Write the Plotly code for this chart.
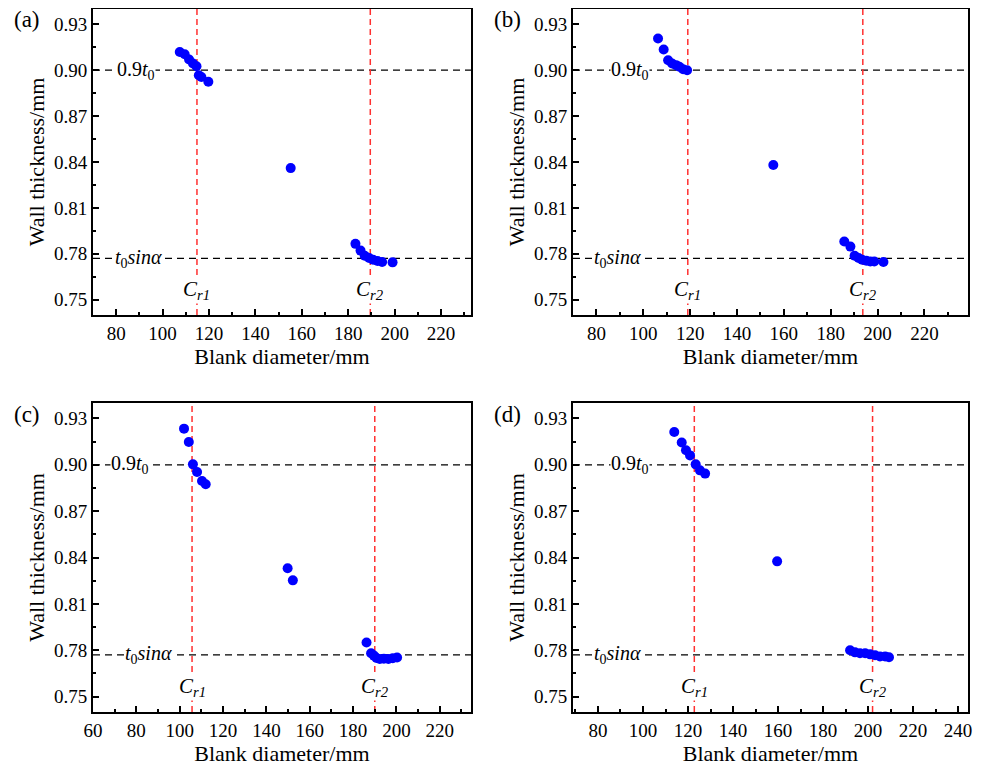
import plotly.graph_objects as go

# ---------------- data ----------------
a_x = [107.4, 109.5, 111.4, 113.1, 114.6, 115.6, 116.7, 119.7, 155.2,
       183.1, 185.3, 187.1, 189.0, 190.7, 192.6, 194.6, 199.1]
a_y = [0.9119, 0.9104, 0.9070, 0.9044, 0.9026, 0.8967, 0.8956, 0.8924, 0.8360,
       0.7865, 0.7821, 0.7787, 0.7772, 0.7761, 0.7753, 0.7746, 0.7744]
b_x = [106.3, 108.7, 110.6, 112.3, 114.0, 115.4, 117.0, 118.7, 155.5,
       185.8, 188.4, 190.2, 191.9, 193.4, 195.2, 196.9, 198.6, 202.5]
b_y = [0.9207, 0.9135, 0.9065, 0.9044, 0.9033, 0.9022, 0.9006, 0.9000, 0.8380,
       0.7880, 0.7847, 0.7787, 0.7772, 0.7761, 0.7755, 0.7750, 0.7750, 0.7746]
c_x = [102.0, 104.2, 106.1, 108.0, 110.3, 112.0, 149.8, 152.2,
       186.2, 188.3, 189.6, 190.8, 192.3, 194.2, 196.3, 198.3, 200.3]
c_y = [0.9234, 0.9148, 0.9003, 0.8953, 0.8895, 0.8874, 0.8330, 0.8252,
       0.7850, 0.7780, 0.7765, 0.7750, 0.7743, 0.7745, 0.7743, 0.7748, 0.7753]
d_x = [113.9, 117.2, 119.1, 120.9, 123.4, 125.3, 127.6, 159.6,
       192.0, 194.2, 196.4, 198.7, 200.9, 203.1, 205.3, 207.6, 209.3]
d_y = [0.9212, 0.9144, 0.9094, 0.9061, 0.9003, 0.8964, 0.8943, 0.8375,
       0.7800, 0.7786, 0.7780, 0.7780, 0.7773, 0.7767, 0.7760, 0.7760, 0.7754]

cr1 = [114.8, 119.0, 105.7, 122.8]
cr2 = [189.5, 193.7, 190.0, 202.0]
line_09t0 = 0.90
line_sin = 0.777
panel_labels = ["(a)", "(b)", "(c)", "(d)"]
x_ranges = [[70, 232.9], [70, 238.6], [60, 234.4], [68.9, 244.4]]
x_ticks = [list(range(80, 221, 20)), list(range(80, 221, 20)),
           list(range(60, 221, 20)), list(range(80, 241, 20))]
y_ticks = [0.75, 0.78, 0.81, 0.84, 0.87, 0.90, 0.93]

# ---------------- layout ----------------
# the page body has an 8px margin, so the figure is drawn 8px smaller and all
# reference pixel positions are shifted by -8
OFF = 8
W, H = 988 - OFF, 773 - OFF
FONT = "Liberation Serif, Times New Roman, serif"
panels_ref = [  # x0, x1, ytop, ybottom in reference pixels
    (93, 471, 9, 315),
    (573, 968, 9, 315),
    (93, 471, 403, 712),
    (573, 968, 403, 712),
]
lab09_off = [43, 57, 37, 57]
labsin_off = [45, 44, 55, 44]

fig = go.Figure()
datasets = [(a_x, a_y), (b_x, b_y), (c_x, c_y), (d_x, d_y)]
shapes = []
annotations = []
for i, ((xs, ys), (rx0, rx1, ryt, ryb)) in enumerate(zip(datasets, panels_ref)):
    x0, x1, yt, yb = rx0 - OFF, rx1 - OFF, ryt - OFF, ryb - OFF
    n = "" if i == 0 else str(i + 1)
    xa = "x" + n
    ya = "y" + n
    fig.add_trace(go.Scatter(x=xs, y=ys, mode="markers", xaxis=xa, yaxis=ya,
                             marker=dict(color="#0000FF", size=10),
                             showlegend=False, hoverinfo="x+y"))
    axis_common = dict(showline=True, linecolor="black", linewidth=2, mirror=True,
                       ticks="inside", ticklen=6, tickwidth=2, tickcolor="black",
                       showgrid=False, zeroline=False, automargin=False,
                       tickfont=dict(family=FONT, size=19, color="black"))
    fig.layout["xaxis" + n] = dict(
        domain=[x0 / W, x1 / W], anchor=ya, range=x_ranges[i],
        tickvals=x_ticks[i],
        minor=dict(ticks="inside", ticklen=3, tickwidth=1.5, tickcolor="black", dtick=10, tick0=0),
        title=dict(text="Blank diameter/mm", font=dict(family=FONT, size=22, color="black"), standoff=6),
        **axis_common)
    fig.layout["yaxis" + n] = dict(
        domain=[1 - yb / H, 1 - yt / H], anchor=xa, range=[0.74, 0.94],
        tickvals=y_ticks, tickformat=".2f",
        minor=dict(ticks="inside", ticklen=3, tickwidth=1.5, tickcolor="black", dtick=0.015, tick0=0.75),
        title=dict(text="Wall thickness/mm", font=dict(family=FONT, size=22, color="black"), standoff=3),
        **axis_common)
    # horizontal dashed lines
    for yv in (line_09t0, line_sin):
        shapes.append(dict(type="line", xref=xa + " domain", yref=ya, x0=0, x1=1, y0=yv, y1=yv,
                           line=dict(color="black", width=1.3, dash="7px,5px"), layer="below"))
    # vertical red dashed lines
    for xv in (cr1[i], cr2[i]):
        shapes.append(dict(type="line", xref=xa, yref=ya + " domain", x0=xv, x1=xv, y0=0, y1=1,
                           line=dict(color="#FF3030", width=1.5, dash="6px,4px"), layer="below"))
    wpx = x1 - x0
    annotations.append(dict(xref=xa + " domain", yref=ya, x=lab09_off[i] / wpx, y=line_09t0,
                            xanchor="center", yanchor="middle",
                            text="0.9<i>t</i><sub>0</sub>", showarrow=False, bgcolor="white",
                            borderpad=0, font=dict(family=FONT, size=20, color="black")))
    annotations.append(dict(xref=xa + " domain", yref=ya, x=labsin_off[i] / wpx, y=line_sin,
                            xanchor="center", yanchor="middle",
                            text="<i>t</i><sub>0</sub><i>sinα</i>", showarrow=False, bgcolor="white",
                            borderpad=0, font=dict(family=FONT, size=20, color="black")))
    for k, xv in enumerate((cr1[i], cr2[i])):
        annotations.append(dict(xref=xa, yref=ya, x=xv, y=0.7565,
                                xanchor="center", yanchor="middle",
                                text="<i>C</i><sub><i>r%d</i></sub>" % (k + 1), showarrow=False,
                                bgcolor="white", borderpad=0,
                                font=dict(family=FONT, size=21, color="black")))
    # panel label
    annotations.append(dict(xref="paper", yref="paper", x=(x0 - 66) / W, y=1 - (yt + 11) / H,
                            text=panel_labels[i], showarrow=False, xanchor="center", yanchor="middle",
                            font=dict(family=FONT, size=23, color="black")))

fig.update_layout(width=W, height=H, margin=dict(l=0, r=0, t=0, b=0),
                  paper_bgcolor="white", plot_bgcolor="white",
                  shapes=shapes, annotations=annotations,
                  font=dict(family=FONT, color="black"))
fig.write_html("out.html")
